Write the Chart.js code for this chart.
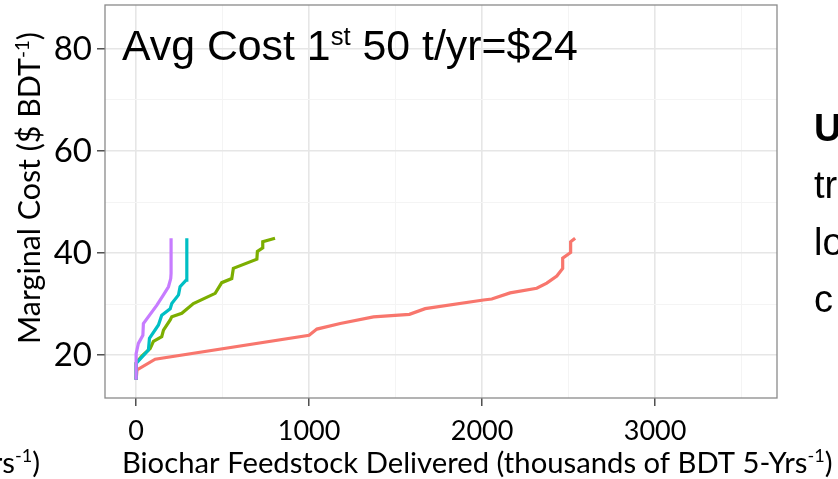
<!DOCTYPE html>
<html>
<head>
<meta charset="utf-8">
<script src="https://cdn.jsdelivr.net/npm/chart.js@4.4.1/dist/chart.umd.min.js"></script>
<style>
  html, body { margin: 0; padding: 0; background: #fff; }
  #wrap { width: 838px; height: 479px; position: relative; }
</style>
</head>
<body>
<div id="wrap"><canvas id="myChart"></canvas></div>
<script>
// series (x in thousands of BDT, y in $/BDT)
const redX = [0, 5, 110, 1000, 1045, 1180, 1372, 1580, 1671, 2008, 2056, 2162, 2316, 2374, 2432, 2466, 2466, 2512, 2512, 2538];
const redY = [15.2, 17.1, 19.2, 23.9, 25.1, 26.2, 27.5, 28.0, 29.1, 30.8, 31.0, 32.2, 33.1, 34.1, 35.5, 37.0, 39.0, 40.1, 42.2, 42.9];

const greenX = [0, 0, 33, 81, 100, 148, 158, 197, 206, 264, 331, 457, 495, 553, 562, 698, 701, 732, 732, 803];
const greenY = [15.2, 18.5, 19.8, 21.3, 22.7, 23.6, 24.9, 26.9, 27.5, 28.2, 30.1, 32.1, 34.2, 35.0, 37.0, 38.8, 40.3, 41.0, 42.2, 42.9];

const cyanX = [0, 0, 71, 77, 129, 148, 197, 206, 245, 254, 289, 293, 293];
const cyanY = [15.2, 18.4, 21.0, 23.3, 25.9, 27.8, 29.1, 30.1, 31.8, 33.4, 34.7, 35.0, 42.9];

const purpleX = [0, 0, 13, 39, 42, 120, 158, 187, 200, 202, 202];
const purpleY = [15.2, 20.3, 22.3, 23.9, 26.2, 29.8, 31.8, 33.4, 35.0, 36.0, 42.9];

const xTicks = [0, 500, 1000, 1500, 2000, 2500, 3000, 3500];
const yTicks = [20, 30, 40, 50, 60, 70, 80];
const xLabelEvery = 1000;
const yLabelEvery = 20;

function pts(xs, ys) {
    return xs.map((x, i) => ({ x: x, y: ys[i] }));
}

function series(xs, ys, color, order) {
    return {
        data: pts(xs, ys),
        showLine: true,
        borderColor: color,
        backgroundColor: color,
        borderWidth: 3.2,
        pointRadius: 0,
        tension: 0,
        fill: false,
        order: order
    };
}

// draws text made of pieces (normal + superscript)
function richText(ctx, segs, x, y, family, size, weight, align) {
    let total = 0;
    segs.forEach(s => {
        ctx.font = (weight || 'normal') + ' ' + (size * (s.scale || 1)) + 'px ' + family;
        s.w = ctx.measureText(s.t).width;
        total += s.w;
    });
    let cx = align === 'center' ? x - total / 2 : (align === 'right' ? x - total : x);
    segs.forEach(s => {
        ctx.font = (weight || 'normal') + ' ' + (size * (s.scale || 1)) + 'px ' + family;
        ctx.fillText(s.t, cx, y - (s.rise || 0) * size);
        cx += s.w;
    });
    return total;
}

function fitSize(ctx, segs, family, weight, target) {
    const ref = 100;
    let w = 0;
    segs.forEach(s => {
        ctx.font = (weight || 'normal') + ' ' + (ref * (s.scale || 1)) + 'px ' + family;
        w += ctx.measureText(s.t).width;
    });
    return ref * target / w;
}

const annotations = {
    id: 'annotations',
    afterDraw(chart) {
        const ctx = chart.ctx;
        const a = chart.chartArea;
        ctx.save();

        // panel border
        ctx.strokeStyle = '#8a8a8a';
        ctx.lineWidth = 1.3;
        ctx.strokeRect(a.left, a.top, a.right - a.left, a.bottom - a.top);

        ctx.fillStyle = '#000';
        ctx.textBaseline = 'alphabetic';

        // big label inside the panel
        const avg = [
            { t: 'Avg Cost 1' },
            { t: 'st', scale: 0.6, rise: 0.36 },
            { t: ' 50 t/yr=$24' }
        ];
        const avgFam = '"Liberation Sans", Arial, sans-serif';
        richText(ctx, avg, 122, 60, avgFam, fitSize(ctx, avg, avgFam, 'normal', 456), 'normal', 'left');

        // x axis title
        const lato = 'Lato, "Open Sans", sans-serif';
        const xt = [
            { t: 'Biochar Feedstock Delivered (thousands of BDT 5-Yrs' },
            { t: '-1', scale: 0.62, rise: 0.36 },
            { t: ')' }
        ];
        const xs = fitSize(ctx, xt, lato, 'normal', 711);
        richText(ctx, xt, 122, 473, lato, xs, 'normal', 'left');

        // cut off label from the neighbouring chart
        const cut = [
            { t: '5-Yrs' },
            { t: '-1', scale: 0.62, rise: 0.36 },
            { t: ')' }
        ];
        richText(ctx, cut, 40, 473, lato, xs, 'normal', 'right');

        // y axis title (rotated)
        const yt = [
            { t: 'Marginal Cost ($ BDT' },
            { t: '-1', scale: 0.62, rise: 0.36 },
            { t: ')' }
        ];
        const ys = fitSize(ctx, yt, lato, 'normal', 312);
        ctx.save();
        ctx.translate(40, 188);
        ctx.rotate(-Math.PI / 2);
        richText(ctx, yt, 0, 0, lato, ys, 'normal', 'center');
        ctx.restore();

        // slide text on the right, cut by the edge
        const arial = '"Liberation Sans", Arial, sans-serif';
        ctx.font = 'bold 38px ' + arial;
        ctx.fillText('U', 814, 141);
        ctx.font = 'normal 38px ' + arial;
        ctx.fillText('tr', 814, 198);
        ctx.fillText('lo', 814, 255);
        ctx.fillText('c', 814, 312);

        ctx.restore();
    }
};

const ctx = document.getElementById('myChart').getContext('2d');
new Chart(ctx, {
    type: 'scatter',
    data: {
        datasets: [
            series(redX, redY, '#F8766D', 4),
            series(greenX, greenY, '#7CAE00', 3),
            series(cyanX, cyanY, '#00BFC4', 2),
            series(purpleX, purpleY, '#C77CFF', 1)
        ]
    },
    options: {
        responsive: true,
        maintainAspectRatio: false,
        animation: false,
        layout: { padding: { left: 0, top: 5, right: 61, bottom: 0 } },
        plugins: {
            legend: { display: false },
            tooltip: { enabled: false }
        },
        scales: {
            x: {
                type: 'linear',
                min: -180,
                max: 3705,
                afterBuildTicks: s => { s.ticks = xTicks.map(v => ({ value: v })); },
                afterFit: s => { s.height = 81; s.paddingLeft = 0; s.paddingRight = 0; },
                border: { display: false },
                grid: {
                    color: c => c.tick && c.tick.value % xLabelEvery === 0 ? '#e6e6e6' : '#f4f4f4',
                    lineWidth: c => c.tick && c.tick.value % xLabelEvery === 0 ? 1.6 : 1,
                    tickColor: c => c.tick && c.tick.value % xLabelEvery === 0 ? '#333' : 'rgba(0,0,0,0)',
                    tickWidth: 1.3,
                    tickLength: 8
                },
                ticks: {
                    autoSkip: false,
                    maxRotation: 0,
                    padding: 9,
                    color: '#000',
                    font: { family: 'Lato', size: 27 },
                    callback: v => v % xLabelEvery === 0 ? String(v) : ''
                }
            },
            y: {
                min: 11.6,
                max: 88.6,
                afterBuildTicks: s => { s.ticks = yTicks.map(v => ({ value: v })); },
                afterFit: s => { s.width = 105; s.paddingTop = 0; s.paddingBottom = 0; },
                border: { display: false },
                grid: {
                    color: c => c.tick && c.tick.value % yLabelEvery === 0 ? '#e6e6e6' : '#f4f4f4',
                    lineWidth: c => c.tick && c.tick.value % yLabelEvery === 0 ? 1.6 : 1,
                    tickColor: c => c.tick && c.tick.value % yLabelEvery === 0 ? '#333' : 'rgba(0,0,0,0)',
                    tickWidth: 1.3,
                    tickLength: 8
                },
                ticks: {
                    autoSkip: false,
                    padding: 5,
                    color: '#000',
                    font: { family: 'Lato', size: 33 },
                    callback: v => v % yLabelEvery === 0 ? String(v) : ''
                }
            }
        }
    },
    plugins: [annotations]
});
</script>
</body>
</html>
